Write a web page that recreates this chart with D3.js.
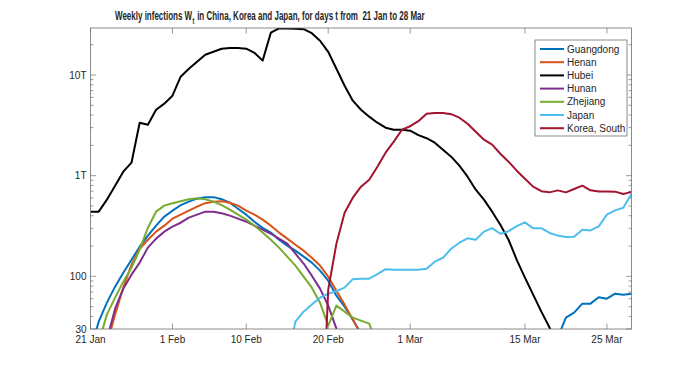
<!DOCTYPE html>
<html>
<head>
<meta charset="utf-8">
<script src="https://cdn.jsdelivr.net/npm/d3@7"></script>
<style>
body { margin: 0; background: #fff; }
text { font-family: "Liberation Sans", Arial, Helvetica, sans-serif; fill: #262626; }
</style>
</head>
<body>
<div id="chart"></div>
<script>
// day index 0 .. 66 (first tick labelled 21 Jan, last day 28 Mar)
var days = d3.range(67);
var xTickDays = [0, 10, 19, 29, 39, 53, 63];
var xTickLabels = ["21 Jan", "1 Feb", "10 Feb", "20 Feb", "1 Mar", "15 Mar", "25 Mar"];
var yTickValues = [30, 100, 1000, 10000];
var yTickLabels = ["30", "100", "1T", "10T"];

var seriesNames = ["Guangdong", "Henan", "Hubei", "Hunan", "Zhejiang", "Japan", "Korea, South"];
var seriesColors = ["#0072BD", "#D95319", "#000000", "#7E2F8E", "#77AC30", "#4DBEEE", "#A2142F"];

var N = null;
var guangdong = [18, 35.5, 54.8, 79, 108.8, 146.5, 197, 254, 319, 392, 449, 509, 552, 591, 612, 612, 584, 539, 470, 410,
  349, 304, 272, 231, 202, 180, 157, 137, 114, 90.6, 64.3, 50, 37.2, 27,
  N, N, N, N, N, N, N, N, N, N, N, N, N, N, N, N, N, N, N, N, N, N,
  2, 24.7, 38.9, 43.6, 53.6, 53.6, 62.1, 60, 67.3, 65.8, 67.3];
var henan = [N, N, 21, 41.7, 77.2, 130.6, 188, 231, 278, 319, 374, 410, 449, 492, 533, 552, 558, 539, 504, 449,
  410, 366, 319, 272, 237, 206, 180, 153, 128, 99.3, 72.1, 52.4, 37.2, 26.5,
  N, N, N, N, N, N, N, N, N, N, N, N, N, N, N, N, N, N, N, N, N, N, N, N, N, N, N, N, N, N, N, N, N];
var hubei = [439, 439, 578, 796, 1096, 1346, 3360, 3210, 4520, 5190, 6230, 9620, 11550, 13560, 15900, 17000, 18250, 18500, 18550, 18250,
  16600, 13900, 26300, 29100, 29000, 28800, 28500, 26000, 21900, 17000, 11550, 7830, 5560, 4520, 3855, 3360, 2996, 2862, 2862, 2800,
  2525, 2357, 2127, 1812, 1544, 1257, 977, 726, 578, 439, 326, 231, 146, 97, 65.8, 44.6, 31, 21,
  N, N, N, N, N, N, N, N, N];
var hunan = [N, N, 23.5, 47.8, 75.5, 104, 137, 193, 237, 278, 312, 341, 383, 410, 439, 439, 424, 401, 374, 349,
  319, 291, 265, 237, 211, 168, 134, 101.6, 75.5, 51.2, 30.2, 16.8,
  N, N, N, N, N, N, N, N, N, N, N, N, N, N, N, N, N, N, N, N, N, N, N, N, N, N, N, N, N, N, N, N, N, N, N];
var zhejiang = [N, 22, 41.7, 61.4, 88.6, 122, 184, 304, 439, 504, 533, 558, 584, 598, 584, 552, 509, 460, 410, 366,
  319, 272, 231, 193, 157, 128, 99.3, 77.2, 54.8, 32.4, 51.2, 44.6, 38.9, 36.3, 33.9, 21,
  N, N, N, N, N, N, N, N, N, N, N, N, N, N, N, N, N, N, N, N, N, N, N, N, N, N, N, N, N, N, N];
var japan = [N, N, N, N, N, N, N, N, N, N, N, N, N, N, N, N, N, N, N, N, N, N, N, N,
  15, 35.5, 44.6, 52.4, 61.4, 67.3, 71.3, 77.2, 93.8, 94.9, 94.9, 105, 117.9, 116.5, 116.5, 116.5,
  116.5, 119.3, 140, 153, 188, 216, 239, 231, 278, 301, 265, 281, 315, 344, 300, 301, 270, 254, 246, 248,
  291, 286, 314, 410, 452, 481, 660];
var korea = [N, N, N, N, N, N, N, N, N, N, N, N, N, N, N, N, N, N, N, N, N, N, N, N, N, N, N, N,
  1, 73.8, 211, 429, 605, 778, 913, 1228, 1692, 2176, 2862, 3100,
  3477, 4128, 4195, 4195, 4080, 3767, 3284, 2735, 2278, 2032, 1653, 1377, 1121, 934, 778, 702, 683, 715, 683, 738,
  796, 715, 698, 698, 694, 658, 690];

var allSeries = [guangdong, henan, hubei, hunan, zhejiang, japan, korea];

var margin = {top: 28, right: 66.5, bottom: 41, left: 90.5},
    fullW = 698, fullH = 370,
    width = fullW - margin.left - margin.right,
    height = fullH - margin.top - margin.bottom;

var svg = d3.select("#chart").append("svg")
    .attr("width", fullW)
    .attr("height", fullH);

var g = svg.append("g")
    .attr("transform", "translate(" + margin.left + "," + margin.top + ")");

var x = d3.scaleLinear().domain([0, 66]).range([0, width]);
var y = d3.scaleLog().domain([30, 29300]).range([height, 0]);

// clip so values below 30 run off the bottom
g.append("clipPath").attr("id", "plotclip")
  .append("rect").attr("x", 0).attr("y", 0).attr("width", width).attr("height", height);

var frameColor = "#6e6e6e";

// minor log ticks
var minor = [];
[10, 100, 1000, 10000].forEach(function(dec) {
  for (var k = 2; k <= 9; k++) {
    var v = dec * k;
    if (v > 30 && v < 29300 && yTickValues.indexOf(v) < 0) minor.push(v);
  }
});
minor.forEach(function(v) {
  g.append("line").attr("x1", 0).attr("x2", 3).attr("y1", y(v)).attr("y2", y(v))
    .attr("stroke", frameColor).attr("stroke-width", 0.7);
  g.append("line").attr("x1", width).attr("x2", width - 3).attr("y1", y(v)).attr("y2", y(v))
    .attr("stroke", frameColor).attr("stroke-width", 0.7);
});

// major y ticks + labels
yTickValues.forEach(function(v, i) {
  g.append("line").attr("x1", 0).attr("x2", 5.5).attr("y1", y(v)).attr("y2", y(v))
    .attr("stroke", frameColor).attr("stroke-width", 0.7);
  g.append("line").attr("x1", width).attr("x2", width - 5.5).attr("y1", y(v)).attr("y2", y(v))
    .attr("stroke", frameColor).attr("stroke-width", 0.7);
  g.append("text")
    .attr("x", -4)
    .attr("y", y(v))
    .attr("dy", "0.35em")
    .attr("text-anchor", "end")
    .style("font-size", "10px")
    .text(yTickLabels[i]);
});

// x ticks + labels
xTickDays.forEach(function(d, i) {
  g.append("line").attr("x1", x(d)).attr("x2", x(d)).attr("y1", height).attr("y2", height - 5.5)
    .attr("stroke", frameColor).attr("stroke-width", 0.7);
  g.append("line").attr("x1", x(d)).attr("x2", x(d)).attr("y1", 0).attr("y2", 5.5)
    .attr("stroke", frameColor).attr("stroke-width", 0.7);
  g.append("text")
    .attr("x", x(d))
    .attr("y", height + 14)
    .attr("text-anchor", "middle")
    .style("font-size", "10px")
    .text(xTickLabels[i]);
});

// lines
var line = d3.line()
    .defined(function(v) { return v != null; })
    .x(function(v, i) { return x(days[i]); })
    .y(function(v) { return y(v); });

var plot = g.append("g").attr("clip-path", "url(#plotclip)");
allSeries.forEach(function(s, i) {
  plot.append("path")
    .datum(s)
    .attr("fill", "none")
    .attr("stroke", seriesColors[i])
    .attr("stroke-width", 2)
    .attr("stroke-linejoin", "round")
    .attr("d", line);
});

// box
g.append("rect")
  .attr("x", 0).attr("y", 0).attr("width", width).attr("height", height)
  .attr("fill", "none").attr("stroke", frameColor).attr("stroke-width", 0.8);

// legend
var lx = 535 - margin.left, ly = 40 - margin.top;
var legend = g.append("g").attr("transform", "translate(" + lx + "," + ly + ")");
legend.append("rect")
  .attr("width", 92).attr("height", 96)
  .attr("fill", "#fff").attr("stroke", frameColor).attr("stroke-width", 0.8);
seriesNames.forEach(function(name, i) {
  var yy = 9 + i * 13.2;
  legend.append("line").attr("x1", 5).attr("x2", 29).attr("y1", yy).attr("y2", yy)
    .attr("stroke", seriesColors[i]).attr("stroke-width", 2);
  legend.append("text").attr("x", 32).attr("y", yy).attr("dy", "0.35em")
    .style("font-size", "10px").text(name);
});

// title, squeezed horizontally to the reference width
var titleG = svg.append("g");
var title = titleG.append("text")
  .attr("x", 0).attr("y", 0)
  .style("font-size", "13px")
  .style("font-weight", "bold")
  .style("white-space", "pre");
title.append("tspan").text("Weekly infections W");
title.append("tspan").attr("dx", 0.5).attr("dy", 4).style("font-size", "9px").text("t");
title.append("tspan").attr("dx", 1).attr("dy", -4).text(" in China, Korea and Japan, for days t from  21 Jan to 28 Mar");
var tw = title.node().getBBox().width;
var sx = 310 / tw;
titleG.attr("transform", "translate(115,19.5) scale(" + sx + ",1)");
</script>
</body>
</html>
